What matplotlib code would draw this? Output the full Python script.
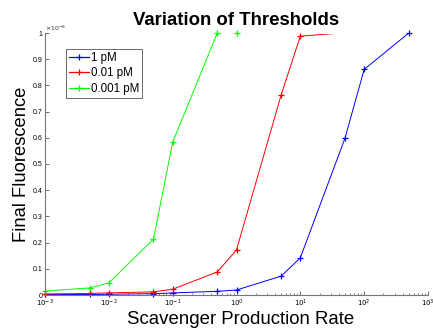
import numpy as np
import matplotlib
matplotlib.use('Agg')
from matplotlib import pyplot as plt
from matplotlib.lines import Line2D
from matplotlib.patches import Rectangle
from matplotlib.ticker import LogLocator, FixedLocator, NullFormatter

plt.rcParams['font.family'] = ['Liberation Sans', 'DejaVu Sans']

# scavenger production rates used in the sweep
rates = [1e-3, 5e-3, 1e-2, 5e-2, 1e-1, 5e-1, 1, 5, 10, 50, 100, 500]

# final fluorescence (x 1e-8) for each threshold concentration
fluo_1pM = [0.002, 0.002, 0.003, 0.005, 0.008, 0.014, 0.019, 0.072, 0.142, 0.598, 0.861, 1.0]
fluo_001pM = [0.004, 0.006, 0.008, 0.012, 0.022, 0.088, 0.172, 0.763, 0.988, 1.001, 1.001, 1.001]
fluo_0001pM = [0.015, 0.027, 0.046, 0.213, 0.583, 1.0, 1.0, 1.001, 1.001, 1.001, 1.001, 1.001]

labels = ['1 pM', '0.01 pM', '0.001 pM']
colors = ['#0000ff', '#ff0000', '#00ff00']

yticks = [0, 0.1, 0.2, 0.3, 0.4, 0.5, 0.6, 0.7, 0.8, 0.9, 1]

fig = plt.figure(figsize=(4.33, 3.30), dpi=100)
ax = fig.add_axes([45 / 433, 35 / 330, 383 / 433, 262 / 330])
ax.set_xscale('log')
ax.set_xlim(1e-3, 1e3)
ax.set_ylim(0, 1)

handles = []
for ys, lab, col in zip([fluo_1pM, fluo_001pM, fluo_0001pM], labels, colors):
    xs = np.array(rates)
    ys = np.array(ys)
    # lines are clipped just below the top so saturated runs vanish
    line, = ax.plot(xs, ys, '-', color=col, lw=0.7)
    line.set_clip_path(Rectangle((0, 0), 1, 0.997, transform=ax.transAxes))
    inside = ys <= 1.0
    ax.plot(xs[inside], ys[inside], linestyle='none', marker='+', markersize=4.5,
            markeredgewidth=0.9, color=col, markeredgecolor=col, clip_on=False)
    handles.append(Line2D([], [], color=col, lw=0.9, marker='+', markersize=4.5,
                          markeredgewidth=0.9, markeredgecolor=col, label=lab))

# log axis ticks with 10^n labels
ax.xaxis.set_minor_locator(LogLocator(base=10, subs=np.arange(2, 10), numticks=10))
ax.xaxis.set_minor_formatter(NullFormatter())
ax.set_xticks([1e-3, 1e-2, 1e-1, 1, 10, 100, 1000])
ax.set_xticklabels(['$10^{-3}$', '$10^{-2}$', '$10^{-1}$', '$10^{0}$',
                    '$10^{1}$', '$10^{2}$', '$10^{3}$'], fontsize=5)
ax.yaxis.set_major_locator(FixedLocator(yticks))
ax.set_yticklabels(['0' if v == 0 else ('1' if v == 1 else f'{v:.1f}') for v in yticks], fontsize=5)

ax.tick_params(direction='in', which='major', length=3, width=0.6, color='#555555', pad=2)
ax.tick_params(direction='in', which='minor', length=1.8, width=0.5, color='#555555')
for side in ['top', 'right']:
    ax.spines[side].set_visible(False)
for side in ['left', 'bottom']:
    ax.spines[side].set_color('#777777')
    ax.spines[side].set_linewidth(0.8)

ax.text(0.0, 1.0, r'$\times10^{-8}$', transform=ax.transAxes, fontsize=4.5,
        ha='left', va='bottom', color='#333333')

ax.set_title('Variation of Thresholds', fontsize=13.4, fontweight='bold', pad=6)
ax.set_xlabel('Scavenger Production Rate', fontsize=13.4, labelpad=0)
ax.xaxis.set_label_coords(0.51, -0.062)
ax.set_ylabel('Final Fluorescence', fontsize=13.2, labelpad=2)

leg = ax.legend(handles=handles, loc='upper left', bbox_to_anchor=(21 / 383, 1 - 16 / 262),
                fontsize=8.3, frameon=True, fancybox=False, handlelength=1.75,
                handletextpad=0.15, borderpad=0.25, labelspacing=0.3, borderaxespad=0)
leg.get_frame().set_edgecolor('#444444')
leg.get_frame().set_linewidth(0.7)

fig.savefig('out.png', dpi=100)
